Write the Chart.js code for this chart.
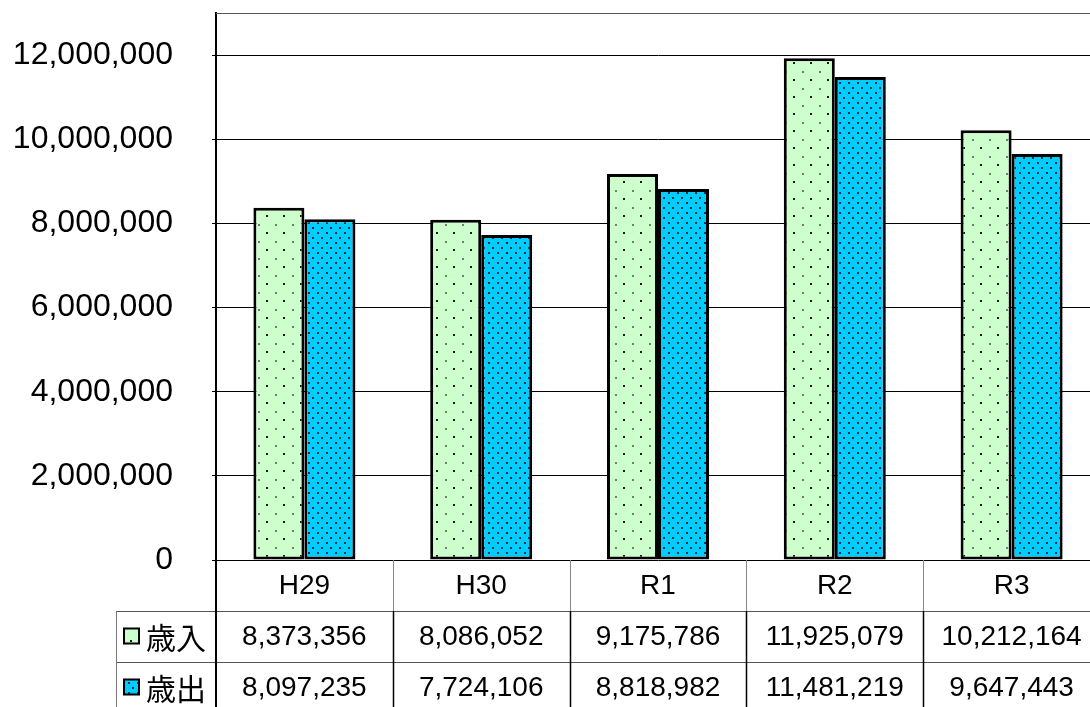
<!DOCTYPE html>
<html>
<head>
<meta charset="utf-8">
<script src="https://cdn.jsdelivr.net/npm/chart.js@4"></script>
<style>
  html, body { margin: 0; padding: 0; overflow: hidden; background: #fff; }
  canvas { display: block; }
</style>
</head>
<body>
<canvas id="c" width="1100" height="707"></canvas>
<script>
// Fiscal years and settlement amounts (千円)
const categories = ['H29', 'H30', 'R1', 'R2', 'R3'];
const seriesNames = ['歳入', '歳出'];
const revenue = [8373356, 8086052, 9175786, 11925079, 10212164];
const expenditure = [8097235, 7724106, 8818982, 11481219, 9647443];
const yTicks = [0, 2000000, 4000000, 6000000, 8000000, 10000000, 12000000];

const canvas = document.getElementById('c');
const ctx = canvas.getContext('2d');

// Dotted fills for the bars
function makePattern(bg, w, h, dots) {
  const c = document.createElement('canvas');
  c.width = w; c.height = h;
  const p = c.getContext('2d');
  p.fillStyle = bg;
  p.fillRect(0, 0, w, h);
  dots.forEach(([dx, dy, col]) => { p.fillStyle = col; p.fillRect(dx, dy, 2, 2); });
  return ctx.createPattern(c, 'repeat');
}
const greenFill = makePattern('#CCFFCC', 17, 17, [[3, 3, '#6f7f6f'], [11, 11, '#1a1a1a']]);
const blueFill = makePattern('#00CCFF', 9, 10, [[2, 2, '#143240'], [6, 7, '#143240']]);
const fills = [greenFill, blueFill];

const fmt = v => v.toLocaleString('en-US');
const numFont = '"Liberation Sans", Arial, sans-serif';
const cjkFont = '"Noto Sans CJK JP", sans-serif';

// Data table under the plot, aligned to the category scale
const dataTable = {
  id: 'dataTable',
  afterDraw(chart) {
    const { ctx, chartArea: { left, right, top, bottom }, scales: { x } } = chart;
    const rowH = 51;
    const colW = (right - left) / categories.length;
    const tableLeft = left - 100;
    const line = (x1, y1, x2, y2, color, w) => {
      ctx.strokeStyle = color; ctx.lineWidth = w || 1;
      ctx.beginPath(); ctx.moveTo(x1, y1); ctx.lineTo(x2, y2); ctx.stroke();
    };
    ctx.save();
    // plot frame top
    line(left, top + 0.5, right, top + 0.5, '#555');
    // horizontal rules of the table
    line(tableLeft, bottom + rowH + 0.5, right, bottom + rowH + 0.5, '#555');
    line(tableLeft, bottom + 2 * rowH + 0.5, right, bottom + 2 * rowH + 0.5, '#555');
    line(tableLeft + 0.5, bottom + rowH, tableLeft + 0.5, chart.height, '#777');
    line(left, bottom, left, chart.height, '#000', 2);
    // column separators
    for (let i = 1; i < categories.length; i++) {
      const xb = Math.round(x.getPixelForValue(i) - colW / 2) + 0.5;
      line(xb, bottom, xb, bottom + rowH, '#888');
      line(xb, bottom + rowH, xb, chart.height, '#000', 1.5);
    }
    // texts
    ctx.fillStyle = '#000';
    ctx.textAlign = 'center';
    ctx.textBaseline = 'middle';
    ctx.font = '28px ' + numFont;
    const rows = [revenue, expenditure];
    categories.forEach((cat, i) => {
      const cx = x.getPixelForValue(i);
      ctx.fillText(cat, cx, bottom + rowH / 2 + 1);
      rows.forEach((vals, r) => {
        ctx.fillText(fmt(vals[i]), cx, bottom + rowH * (r + 1.5) + 1);
      });
    });
    // series labels with keys
    seriesNames.forEach((name, r) => {
      const cy = bottom + rowH * (r + 1.5);
      ctx.fillStyle = fills[r];
      ctx.fillRect(tableLeft + 8, cy - 8, 15, 15);
      ctx.strokeStyle = '#000'; ctx.lineWidth = 2;
      ctx.strokeRect(tableLeft + 8, cy - 8, 15, 15);
      ctx.fillStyle = '#000';
      ctx.textAlign = 'left';
      ctx.font = '30px ' + cjkFont;
      ctx.fillText(name, tableLeft + 30, cy + 1);
    });
    ctx.restore();
  }
};

new Chart(canvas, {
  type: 'bar',
  data: {
    labels: categories,
    datasets: [
      { label: seriesNames[0], data: revenue, backgroundColor: greenFill },
      { label: seriesNames[1], data: expenditure, backgroundColor: blueFill }
    ]
  },
  options: {
    responsive: false,
    devicePixelRatio: 1,
    animation: false,
    layout: { padding: { top: 13, bottom: 147, left: 0, right: 0 } },
    datasets: {
      bar: {
        categoryPercentage: 0.577,
        barPercentage: 1,
        borderColor: '#000',
        borderWidth: 3,
        borderSkipped: false
      }
    },
    plugins: { legend: { display: false }, tooltip: { enabled: false } },
    scales: {
      x: { display: false, offset: true },
      y: {
        min: 0,
        max: 13000000,
        afterBuildTicks(s) { s.ticks = yTicks.map(v => ({ value: v })); },
        afterFit(s) { s.width = 216; s.paddingTop = 0; s.paddingBottom = 0; },
        grid: { color: '#000', lineWidth: 1, tickLength: 4, drawTicks: true },
        border: { color: '#000', width: 2 },
        ticks: {
          color: '#000',
          padding: 39,
          font: { family: numFont, size: 32 },
          callback: v => fmt(v)
        }
      }
    }
  },
  plugins: [dataTable]
});
</script>
</body>
</html>
